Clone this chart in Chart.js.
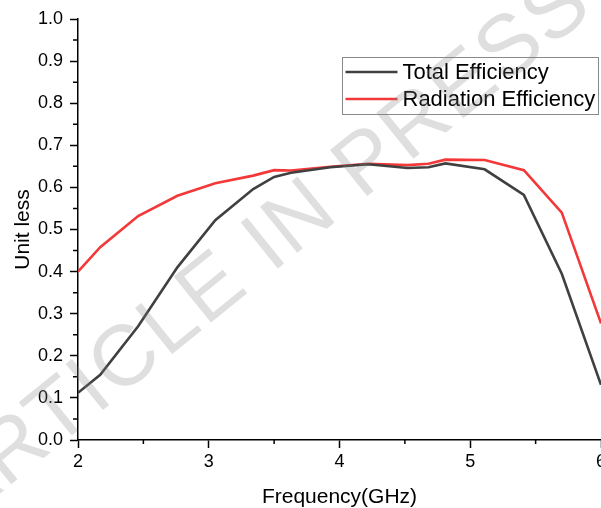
<!DOCTYPE html>
<html lang="en">
<head>
<meta charset="UTF-8">
<title>Efficiency</title>
<script src="https://cdn.jsdelivr.net/npm/chart.js"></script>
<style>
  html, body { margin: 0; padding: 0; background: #fff; }
</style>
</head>
<body>
<canvas id="grafico" width="601" height="508"></canvas>
<script>
// frequency points (GHz), shared by both curves
const frequencia = [2.0, 2.17, 2.46, 2.76, 3.05, 3.34, 3.5, 3.63, 3.93, 4.22, 4.52, 4.68, 4.81, 5.11, 5.41, 5.70, 6.0];
const totalEfficiency = [0.112, 0.155, 0.27, 0.41, 0.522, 0.596, 0.625, 0.635, 0.648, 0.655, 0.646, 0.648, 0.657, 0.643, 0.582, 0.395, 0.131];
const radiationEfficiency = [0.40, 0.458, 0.532, 0.58, 0.61, 0.628, 0.641, 0.640, 0.649, 0.656, 0.653, 0.656, 0.666, 0.665, 0.641, 0.54, 0.277];
const nomes = ['Total Efficiency', 'Radiation Efficiency'];
const xTitulo = 'Frequency(GHz)';
const yTitulo = 'Unit less';
const marcaDagua = 'ARTICLE IN PRESS';

Chart.defaults.font.family = "'Liberation Sans', Arial, sans-serif";

function pares(xs, ys) {
    return xs.map((x, i) => ({ x: x, y: ys[i] }));
}

// small ticks halfway between the major ones
const minorTicks = {
    id: 'minorTicks',
    afterDraw(chart) {
        const ctx = chart.ctx;
        const area = chart.chartArea;
        const sx = chart.scales.x, sy = chart.scales.y;
        ctx.save();
        ctx.strokeStyle = '#000';
        ctx.lineWidth = 1.5;
        ctx.beginPath();
        for (let i = 0; i < sx.ticks.length - 1; i++) {
            const px = sx.getPixelForValue((sx.ticks[i].value + sx.ticks[i + 1].value) / 2);
            ctx.moveTo(px, area.bottom);
            ctx.lineTo(px, area.bottom + 4);
        }
        for (let i = 0; i < sy.ticks.length - 1; i++) {
            const py = sy.getPixelForValue((sy.ticks[i].value + sy.ticks[i + 1].value) / 2);
            ctx.moveTo(area.left, py);
            ctx.lineTo(area.left - 5, py);
        }
        ctx.stroke();
        ctx.restore();
    }
};

// boxed legend inside the plot, top right
const legendaCaixa = {
    id: 'legendaCaixa',
    afterDatasetsDraw(chart) {
        const ctx = chart.ctx;
        const area = chart.chartArea;
        const x0 = area.left + 264.5, y0 = area.top + 38.5;
        const w = 256, h = 57;
        ctx.save();
        ctx.fillStyle = '#fff';
        ctx.fillRect(x0, y0, w, h);
        ctx.strokeStyle = '#8a8a8a';
        ctx.lineWidth = 1;
        ctx.strokeRect(x0, y0, w, h);
        ctx.font = "22px 'Liberation Sans', Arial, sans-serif";
        ctx.textBaseline = 'middle';
        ctx.textAlign = 'left';
        chart.data.datasets.forEach((ds, i) => {
            const yy = y0 + 14.5 + i * 27;
            ctx.strokeStyle = ds.borderColor;
            ctx.lineWidth = ds.borderWidth;
            ctx.beginPath();
            ctx.moveTo(x0 + 3, yy);
            ctx.lineTo(x0 + 55, yy);
            ctx.stroke();
            ctx.fillStyle = '#000';
            ctx.fillText(ds.label, x0 + 60, yy + 1);
        });
        ctx.restore();
    }
};

const watermark = {
    id: 'watermark',
    afterDraw(chart) {
        const ctx = chart.ctx;
        ctx.save();
        ctx.translate(263, 250);
        ctx.rotate(-39 * Math.PI / 180);
        ctx.font = "86px 'Liberation Sans', Arial, sans-serif";
        ctx.letterSpacing = '2px';
        ctx.fillStyle = 'rgba(128,128,128,0.25)';
        ctx.textAlign = 'center';
        ctx.textBaseline = 'middle';
        ctx.fillText(marcaDagua, 0, 0);
        ctx.restore();
    }
};

const dados = {
    datasets: [{
        label: nomes[0],
        data: pares(frequencia, totalEfficiency),
        borderColor: '#404040',
        borderWidth: 2.6,
        pointRadius: 0,
        tension: 0
    }, {
        label: nomes[1],
        data: pares(frequencia, radiationEfficiency),
        borderColor: '#f23838',
        borderWidth: 2.6,
        pointRadius: 0,
        tension: 0
    }]
};

const config = {
    type: 'line',
    data: dados,
    options: {
        responsive: false,
        animation: false,
        layout: { padding: { top: 19, left: 0, right: 0, bottom: 0 } },
        scales: {
            x: {
                type: 'linear',
                min: 2,
                max: 6,
                ticks: {
                    stepSize: 1,
                    color: '#000',
                    padding: 3,
                    font: { size: 18 },
                    callback: v => v
                },
                grid: { drawOnChartArea: false, tickLength: 8, tickColor: '#000', tickWidth: 1.5 },
                border: { color: '#000', width: 1.5 },
                title: {
                    display: true,
                    text: xTitulo,
                    color: '#000',
                    font: { size: 21, lineHeight: 1 },
                    padding: { top: 0, bottom: 0 }
                },
                afterFit(scale) {
                    scale.height = 68;
                    scale.paddingLeft = 0;
                    scale.paddingRight = 0;
                }
            },
            y: {
                min: 0,
                max: 1,
                ticks: {
                    stepSize: 0.1,
                    color: '#000',
                    padding: 7,
                    font: { size: 18 },
                    callback: v => v.toFixed(1)
                },
                grid: { drawOnChartArea: false, tickLength: 8, tickColor: '#000', tickWidth: 1.5 },
                border: { color: '#000', width: 1.5 },
                title: {
                    display: true,
                    text: yTitulo,
                    color: '#000',
                    font: { size: 21, lineHeight: 1 },
                    padding: { top: 13, bottom: 0 }
                },
                afterFit(scale) {
                    scale.width = 78;
                    scale.paddingTop = 0;
                    scale.paddingBottom = 0;
                }
            }
        },
        plugins: {
            legend: { display: false },
            tooltip: { enabled: false }
        }
    },
    plugins: [minorTicks, legendaCaixa, watermark]
};

const ctx = document.getElementById('grafico').getContext('2d');
const myChart = new Chart(ctx, config);
</script>
</body>
</html>
